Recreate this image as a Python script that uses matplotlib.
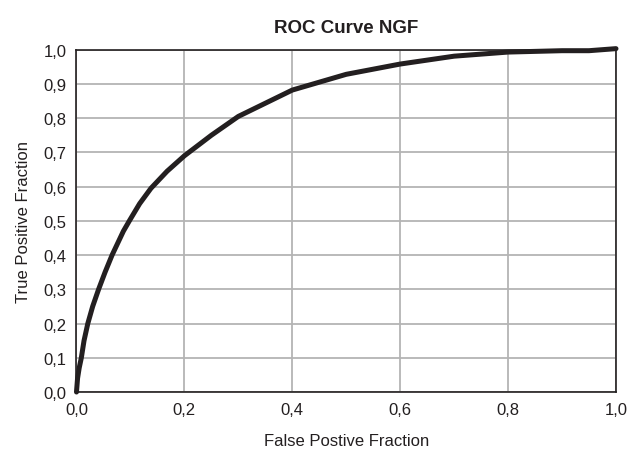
import matplotlib.pyplot as plt

fpr = [0.0, 0.002, 0.005, 0.009, 0.014, 0.021, 0.03, 0.041, 0.053, 0.066,
       0.087, 0.098, 0.117, 0.138, 0.168, 0.2, 0.25, 0.3, 0.4, 0.5,
       0.6, 0.7, 0.8, 0.9, 0.95, 1.0]
tpr = [0.0, 0.04, 0.07, 0.1, 0.15, 0.2, 0.25, 0.3, 0.35, 0.4,
       0.47, 0.5, 0.55, 0.595, 0.645, 0.69, 0.75, 0.805, 0.882, 0.928,
       0.958, 0.981, 0.993, 0.997, 0.997, 1.003]

ticks = [0.0, 0.1, 0.2, 0.3, 0.4, 0.5, 0.6, 0.7, 0.8, 0.9, 1.0]
xticks = [0.0, 0.2, 0.4, 0.6, 0.8, 1.0]

plt.rcParams['font.family'] = ['Liberation Sans', 'DejaVu Sans']

fig = plt.figure(figsize=(6.31, 4.52), dpi=100)
ax = fig.add_axes([0.1212, 0.1305, 0.855, 0.7574])

ax.plot(fpr, tpr, color='#231f20', linewidth=3.6, solid_capstyle='round',
        solid_joinstyle='round', clip_on=False, zorder=3)

ax.set_xlim(0, 1)
ax.set_ylim(0, 1)
ax.set_xticks(xticks)
ax.set_yticks(ticks)
ax.set_xticklabels([f"{t:.1f}".replace('.', ',') for t in xticks])
ax.set_yticklabels([f"{t:.1f}".replace('.', ',') for t in ticks])
ax.tick_params(length=0, labelsize=12, colors='#231f20', pad=7)
ax.grid(True, color='#b4b4b4', linewidth=1.3)
ax.set_axisbelow(True)
for s in ax.spines.values():
    s.set_color('#231f20')
    s.set_linewidth(1.2)

ax.set_title("ROC Curve NGF", fontsize=13.5, fontweight='bold', color='#231f20', pad=13)
ax.set_xlabel("False Postive Fraction", fontsize=12, color='#231f20', labelpad=12)
ax.set_ylabel("True Positive Fraction", fontsize=12, color='#231f20', labelpad=9)

fig.savefig("out.png", dpi=100)
